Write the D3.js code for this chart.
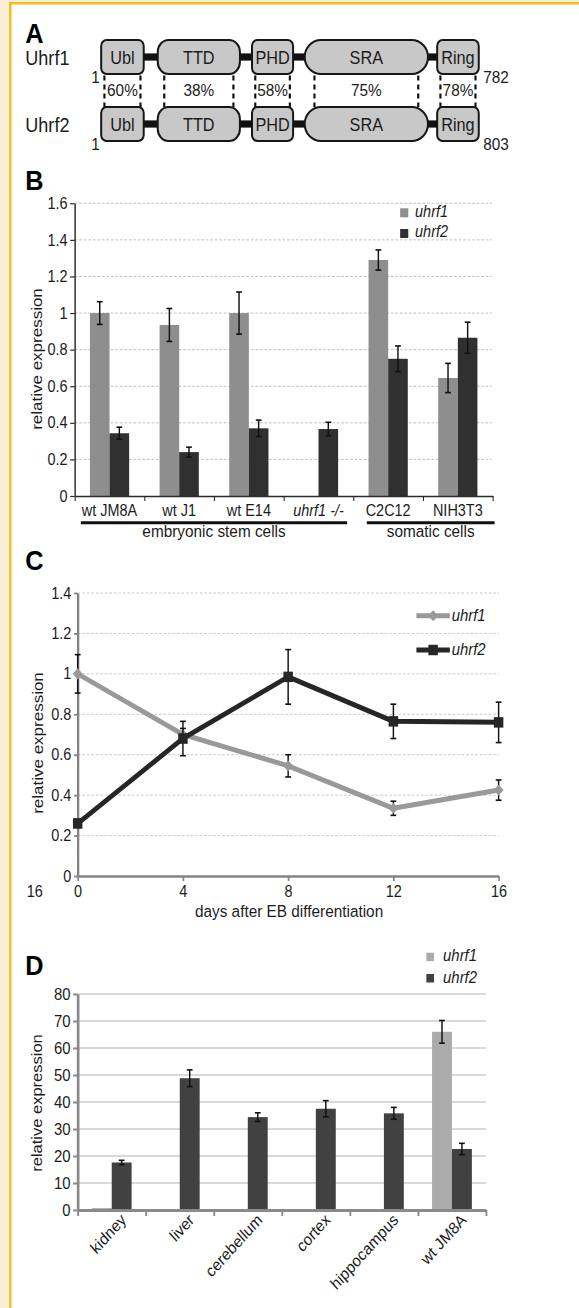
<!DOCTYPE html>
<html>
<head>
<meta charset="utf-8">
<script src="https://cdn.jsdelivr.net/npm/d3@7"></script>
<style>
  body { margin: 0; background: #fff; }
  svg { display: block; }
</style>
</head>
<body>
<svg id="fig" width="579" height="1308"></svg>
<script>
// panel A: domain schematic (schematic residue positions, drawn the same for both proteins)
const PROTEINS = ["Uhrf1", "Uhrf2"];
const PROTEIN_LENGTH = [782, 803];
const DOMAINS = ["Ubl", "TTD", "PHD", "SRA", "Ring"];
const DOMAIN_START = [1, 118, 313, 422, 696];
const DOMAIN_END = [89, 288, 398, 677, 782];
const IDENTITY = ["60%", "38%", "58%", "75%", "78%"];

// panel B: cell lines
const CELL_LINES = ["wt JM8A", "wt J1", "wt E14", "uhrf1 -/-", "C2C12", "NIH3T3"];
const B_UHRF1 = [1.0, 0.935, 1.0, 0, 1.29, 0.645];
const B_UHRF1_ERR = [0.062, 0.09, 0.115, 0, 0.055, 0.08];
const B_UHRF2 = [0.343, 0.24, 0.37, 0.366, 0.75, 0.865];
const B_UHRF2_ERR = [0.033, 0.027, 0.045, 0.037, 0.07, 0.085];
const B_TICKS = [0, 0.2, 0.4, 0.6, 0.8, 1, 1.2, 1.4, 1.6];
const GROUP_NAMES = ["embryonic stem cells", "somatic cells"];
const GROUP_MEMBERS = [["wt JM8A", "uhrf1 -/-"], ["C2C12", "NIH3T3"]];

// panel C: EB differentiation time course
const DAYS = [0, 4, 8, 12, 16];
const C_UHRF1 = [1.0, 0.70, 0.545, 0.335, 0.425];
const C_UHRF1_ERR = [0.095, 0.03, 0.055, 0.035, 0.05];
const C_UHRF2 = [0.26, 0.68, 0.985, 0.765, 0.76];
const C_UHRF2_ERR = [0.02, 0.085, 0.135, 0.085, 0.1];
const C_TICKS = [0, 0.2, 0.4, 0.6, 0.8, 1, 1.2, 1.4];

// panel D: tissues
const TISSUES = ["kidney", "liver", "cerebellum", "cortex", "hippocampus", "wt JM8A"];
const D_UHRF1 = [0.7, 0.1, 0, 0.3, 0, 66];
const D_UHRF1_ERR = [0.2, 0, 0, 0, 0, 4.2];
const D_UHRF2 = [17.6, 48.8, 34.4, 37.5, 35.8, 22.6];
const D_UHRF2_ERR = [0.8, 3.1, 1.6, 3.0, 2.2, 2.1];
const D_TICKS = [0, 10, 20, 30, 40, 50, 60, 70, 80];

const SERIES = ["uhrf1", "uhrf2"];
const FONT = "'Liberation Sans', Arial, Helvetica, sans-serif";
const INK = "#1c1c1c";

const SVG = d3.select("#fig").attr("font-family", FONT);

// page frame
SVG.append("rect").attr("width", 579).attr("height", 1308).attr("fill", "#fbeed6");
SVG.append("rect").attr("x", 11.4).attr("y", 4.6).attr("width", 568).attr("height", 1304).attr("fill", "#fff");
SVG.append("line").attr("x1", 10.3).attr("x2", 10.3).attr("y1", 2.1).attr("y2", 1308)
  .attr("stroke", "#f2bf1c").attr("stroke-width", 2.4);
SVG.append("line").attr("x1", 9.1).attr("x2", 579).attr("y1", 3.3).attr("y2", 3.3)
  .attr("stroke", "#f2bf1c").attr("stroke-width", 2.5);

// the figure itself is horizontally condensed
const ROOT = SVG.append("g").attr("transform", "scale(0.9033,1)");

function panelLetter(t, y) {
  ROOT.append("text").attr("x", 28).attr("y", y).text(t)
    .attr("font-size", 28).attr("font-weight", "bold").attr("fill", "#000");
}
panelLetter("A", 43);
panelLetter("B", 190);
panelLetter("C", 570);
panelLetter("D", 975);

function styleAxis(g, color, width, size) {
  g.attr("font-family", FONT).attr("font-size", size);
  g.select(".domain").attr("stroke", color).attr("stroke-width", width);
  g.selectAll(".tick line").attr("stroke", color).attr("stroke-width", Math.max(1.2, width * 0.7));
  g.selectAll(".tick text").attr("fill", INK);
}

function errorBars(g, rows, x, y) {
  const eb = g.selectAll(null).data(rows.filter(d => d.e > 0)).join("g")
    .attr("stroke", "#111").attr("stroke-width", 1.6).attr("fill", "none");
  eb.append("line").attr("x1", x).attr("x2", x)
    .attr("y1", d => y(d.v + d.e)).attr("y2", d => y(d.v - d.e));
  eb.append("line").attr("x1", d => x(d) - 3.2).attr("x2", d => x(d) + 3.2)
    .attr("y1", d => y(d.v + d.e)).attr("y2", d => y(d.v + d.e));
  eb.append("line").attr("x1", d => x(d) - 3.2).attr("x2", d => x(d) + 3.2)
    .attr("y1", d => y(d.v - d.e)).attr("y2", d => y(d.v - d.e));
}

// ---------------- A ----------------
const A_X = d3.scaleLinear().domain([1, 782]).range([112, 530]);
const ROW_TOP = [40, 107];
const BOX_H = 34;
const CORNER = [6, 12, 6, 18, 6];

PROTEINS.forEach((p, r) => {
  const g = ROOT.append("g").attr("transform", `translate(0,${ROW_TOP[r]})`);
  g.append("rect").attr("x", A_X(1)).attr("width", A_X(782) - A_X(1))
    .attr("y", BOX_H / 2 - 3.6).attr("height", 7.2).attr("fill", "#111");
  g.selectAll("rect.dom").data(DOMAINS).join("rect").attr("class", "dom")
    .attr("x", (d, i) => A_X(DOMAIN_START[i]))
    .attr("width", (d, i) => A_X(DOMAIN_END[i]) - A_X(DOMAIN_START[i]))
    .attr("y", 0).attr("height", BOX_H)
    .attr("rx", (d, i) => CORNER[i]).attr("ry", (d, i) => CORNER[i])
    .attr("fill", "#c8c8c8").attr("stroke", "#161616").attr("stroke-width", 2.2);
  g.selectAll("text.dom").data(DOMAINS).join("text").attr("class", "dom")
    .attr("x", (d, i) => (A_X(DOMAIN_START[i]) + A_X(DOMAIN_END[i])) / 2)
    .attr("y", 24).attr("text-anchor", "middle")
    .attr("font-size", 18).attr("fill", INK).text(d => d);
  g.append("text").attr("x", 28).attr("y", 25).attr("font-size", 20).attr("fill", INK).text(p);
  g.append("text").attr("x", A_X(1) - 1.5).attr("y", 43).attr("text-anchor", "end")
    .attr("font-size", 17).attr("fill", INK).text("1");
  g.append("text").attr("x", A_X(782) + 5).attr("y", 43)
    .attr("font-size", 17).attr("fill", INK).text(PROTEIN_LENGTH[r]);
});

const dashG = ROOT.append("g").attr("stroke", "#111").attr("stroke-width", 2.4)
  .attr("stroke-dasharray", "5,4");
DOMAINS.forEach((d, i) => {
  const inset = CORNER[i] * 0.6;
  [A_X(DOMAIN_START[i]) + inset, A_X(DOMAIN_END[i]) - inset].forEach(x => {
    dashG.append("line").attr("x1", x).attr("x2", x).attr("y1", 75.5).attr("y2", 107);
  });
});
ROOT.selectAll("text.ident").data(IDENTITY).join("text").attr("class", "ident")
  .attr("x", (d, i) => (A_X(DOMAIN_START[i]) + A_X(DOMAIN_END[i])) / 2)
  .attr("y", 96.5).attr("text-anchor", "middle")
  .attr("font-size", 17).attr("fill", INK).text(d => d);

// ---------------- B ----------------
const B_LEFT = 82.7, B_RIGHT = 545.4, B_TOP = 203.3, B_BOTTOM = 496;
const bY = d3.scaleLinear().domain([0, 1.6]).range([B_BOTTOM, B_TOP]);
const bX = d3.scaleBand().domain(CELL_LINES).range([B_LEFT, B_RIGHT])
  .paddingInner(0.437).paddingOuter(0.2185);
const bS = d3.scaleBand().domain(SERIES).range([0, bX.bandwidth()]);
const bColor = d3.scaleOrdinal().domain(SERIES).range(["#8e8e8e", "#303030"]);

ROOT.append("g").selectAll("line").data(B_TICKS.filter(t => t > 0)).join("line")
  .attr("x1", B_LEFT).attr("x2", B_RIGHT - 1).attr("y1", d => bY(d)).attr("y2", d => bY(d))
  .attr("stroke", "#bdbdbd").attr("stroke-width", 1).attr("stroke-dasharray", "3,2");

const bRows = [];
CELL_LINES.forEach((c, i) => {
  bRows.push({ cat: c, s: "uhrf1", v: B_UHRF1[i], e: B_UHRF1_ERR[i] });
  bRows.push({ cat: c, s: "uhrf2", v: B_UHRF2[i], e: B_UHRF2_ERR[i] });
});
const bBars = ROOT.append("g");
bBars.selectAll("rect").data(bRows).join("rect")
  .attr("x", d => bX(d.cat) + bS(d.s)).attr("width", bS.bandwidth())
  .attr("y", d => bY(d.v)).attr("height", d => B_BOTTOM - bY(d.v))
  .attr("fill", d => bColor(d.s));
errorBars(bBars, bRows, d => bX(d.cat) + bS(d.s) + bS.bandwidth() / 2, bY);

const bYAxis = ROOT.append("g").attr("transform", `translate(${B_LEFT},0)`)
  .call(d3.axisLeft(bY).tickValues(B_TICKS).tickSize(5).tickSizeOuter(0).tickFormat(d => d));
styleAxis(bYAxis, "#2a2a2a", 1.6, 16);
const bIdx = d3.scaleLinear().domain([0, CELL_LINES.length]).range([B_LEFT, B_RIGHT]);
const bXAxis = ROOT.append("g").attr("transform", `translate(0,${B_BOTTOM})`)
  .call(d3.axisBottom(bIdx).tickValues(d3.range(CELL_LINES.length + 1)).tickSize(5)
    .tickSizeOuter(0).tickFormat(""));
styleAxis(bXAxis, "#2a2a2a", 1.6, 16);

ROOT.selectAll("text.bcat").data(CELL_LINES).join("text").attr("class", "bcat")
  .attr("x", d => bX(d) + bX.bandwidth() / 2).attr("y", 516)
  .attr("text-anchor", "middle").attr("font-size", 16).attr("fill", INK)
  .attr("font-style", d => d.startsWith("uhrf1") ? "italic" : "normal").text(d => d);

const GROUP_PAD = [[-10, 10], [-2, 19]];
GROUP_NAMES.forEach((name, i) => {
  const x1 = bX(GROUP_MEMBERS[i][0]) + GROUP_PAD[i][0];
  const x2 = bX(GROUP_MEMBERS[i][1]) + bX.bandwidth() + GROUP_PAD[i][1];
  ROOT.append("line").attr("x1", x1).attr("x2", x2).attr("y1", 522.7).attr("y2", 522.7)
    .attr("stroke", "#111").attr("stroke-width", 3);
  ROOT.append("text").attr("x", (x1 + x2) / 2).attr("y", 537).attr("text-anchor", "middle")
    .attr("font-size", 17).attr("fill", INK).text(name);
});

ROOT.append("text").attr("transform", "translate(46,359) rotate(-90)")
  .attr("text-anchor", "middle").attr("font-size", 17).attr("fill", INK).text("relative expression");

SERIES.forEach((s, i) => {
  ROOT.append("rect").attr("x", 443).attr("y", 208.3 + i * 20.7).attr("width", 9).attr("height", 9)
    .attr("fill", bColor(s));
  ROOT.append("text").attr("x", 459.5).attr("y", 217 + i * 20.5).attr("font-size", 16)
    .attr("font-style", "italic").attr("fill", INK).text(s);
});

// ---------------- C ----------------
const C_LEFT = 86, C_RIGHT = 552, C_TOP = 593, C_BOTTOM = 876;
const cX = d3.scaleLinear().domain([0, 16]).range([C_LEFT, C_RIGHT]);
const cY = d3.scaleLinear().domain([0, 1.4]).range([C_BOTTOM, C_TOP]);

ROOT.append("g").selectAll("line").data(C_TICKS.filter(t => t > 0)).join("line")
  .attr("x1", C_LEFT).attr("x2", C_RIGHT).attr("y1", d => cY(d)).attr("y2", d => cY(d))
  .attr("stroke", "#c6c6c6").attr("stroke-width", 1).attr("stroke-dasharray", "3,2");

const cYAxis = ROOT.append("g").attr("transform", `translate(${C_LEFT},0)`)
  .call(d3.axisLeft(cY).tickValues(C_TICKS).tickSize(4).tickSizeOuter(0).tickFormat(d => d));
styleAxis(cYAxis, "#848484", 2.6, 16);
const cXAxis = ROOT.append("g").attr("transform", `translate(0,${C_BOTTOM})`)
  .call(d3.axisBottom(cX).tickValues(DAYS).tickSize(5).tickPadding(4.5).tickSizeOuter(0));
styleAxis(cXAxis, "#848484", 2.6, 16);
ROOT.append("text").attr("x", 29.5).attr("y", 897).attr("font-size", 16).attr("fill", INK).text("16");

const cSeries = [
  { name: "uhrf1", v: C_UHRF1, e: C_UHRF1_ERR, color: "#999999", size: 62, rot: 45 },
  { name: "uhrf2", v: C_UHRF2, e: C_UHRF2_ERR, color: "#262626", size: 110, rot: 0 }
];
const line = d3.line().x(d => cX(d.day)).y(d => cY(d.v));
cSeries.forEach(s => {
  const pts = DAYS.map((day, i) => ({ day: day, v: s.v[i], e: s.e[i] }));
  const g = ROOT.append("g");
  g.append("path").datum(pts).attr("d", line).attr("fill", "none")
    .attr("stroke", s.color).attr("stroke-width", 5).attr("stroke-linejoin", "round");
  errorBars(g, pts, d => cX(d.day), cY);
  g.selectAll("path.mk").data(pts).join("path").attr("class", "mk")
    .attr("d", d3.symbol().type(d3.symbolSquare).size(s.size))
    .attr("transform", d => `translate(${cX(d.day)},${cY(d.v)}) rotate(${s.rot})`)
    .attr("fill", s.color);
});

cSeries.forEach((s, i) => {
  const ly = 615.7 + i * 34.3;
  ROOT.append("line").attr("x1", 461).attr("x2", 498).attr("y1", ly).attr("y2", ly)
    .attr("stroke", s.color).attr("stroke-width", 5);
  ROOT.append("path").attr("d", d3.symbol().type(d3.symbolSquare).size(s.size))
    .attr("transform", `translate(479.5,${ly}) rotate(${s.rot})`).attr("fill", s.color);
  ROOT.append("text").attr("x", 500).attr("y", ly + 5.5).attr("font-size", 16.5)
    .attr("font-style", "italic").attr("fill", INK).text(s.name);
});

ROOT.append("text").attr("x", (C_LEFT + C_RIGHT) / 2 + 1).attr("y", 917).attr("text-anchor", "middle")
  .attr("font-size", 17).attr("fill", INK).text("days after EB differentiation");
ROOT.append("text").attr("transform", "translate(48,743) rotate(-90)")
  .attr("text-anchor", "middle").attr("font-size", 17).attr("fill", INK).text("relative expression");

// ---------------- D ----------------
const D_LEFT = 86, D_RIGHT = 538, D_TOP = 994, D_BOTTOM = 1210;
const dY = d3.scaleLinear().domain([0, 80]).range([D_BOTTOM, D_TOP]);
const dX = d3.scaleBand().domain(TISSUES).range([D_LEFT, D_RIGHT])
  .paddingInner(0.415).paddingOuter(0.2075);
const dS = d3.scaleBand().domain(SERIES).range([0, dX.bandwidth()]);
const dColor = d3.scaleOrdinal().domain(SERIES).range(["#ababab", "#414141"]);

ROOT.append("g").selectAll("line").data(D_TICKS.filter(t => t > 0)).join("line")
  .attr("x1", D_LEFT).attr("x2", D_RIGHT).attr("y1", d => dY(d)).attr("y2", d => dY(d))
  .attr("stroke", "#d9d9d9").attr("stroke-width", 2);

const dRows = [];
TISSUES.forEach((c, i) => {
  dRows.push({ cat: c, s: "uhrf1", v: D_UHRF1[i], e: D_UHRF1_ERR[i] });
  dRows.push({ cat: c, s: "uhrf2", v: D_UHRF2[i], e: D_UHRF2_ERR[i] });
});
const dBars = ROOT.append("g");
dBars.selectAll("rect").data(dRows).join("rect")
  .attr("x", d => dX(d.cat) + dS(d.s)).attr("width", dS.bandwidth())
  .attr("y", d => dY(d.v)).attr("height", d => D_BOTTOM - dY(d.v))
  .attr("fill", d => dColor(d.s));
errorBars(dBars, dRows.filter(d => d.e >= 0.5), d => dX(d.cat) + dS(d.s) + dS.bandwidth() / 2, dY);

const dYAxis = ROOT.append("g").attr("transform", `translate(${D_LEFT},0)`)
  .call(d3.axisLeft(dY).tickValues(D_TICKS).tickSize(5).tickSizeOuter(0));
styleAxis(dYAxis, "#8a8a8a", 3, 16.5);
const dIdx = d3.scaleLinear().domain([0, TISSUES.length]).range([D_LEFT, D_RIGHT]);
const dXAxis = ROOT.append("g").attr("transform", `translate(0,${D_BOTTOM})`)
  .call(d3.axisBottom(dIdx).tickValues(d3.range(TISSUES.length + 1)).tickSize(6)
    .tickSizeOuter(0).tickFormat(""));
styleAxis(dXAxis, "#8a8a8a", 3, 16);

ROOT.selectAll("text.dcat").data(TISSUES).join("text").attr("class", "dcat")
  .attr("transform", d => `translate(${dX(d) + dX.bandwidth() / 2 + 17},1221) rotate(-45)`)
  .attr("text-anchor", "end").attr("font-size", 16.5).attr("fill", INK).text(d => d);

ROOT.append("text").attr("transform", "translate(46,1103) rotate(-90)")
  .attr("text-anchor", "middle").attr("font-size", 16.5).attr("fill", INK).text("relative expression");

SERIES.forEach((s, i) => {
  ROOT.append("rect").attr("x", 472).attr("y", 952.7 + i * 21.3).attr("width", 8.5).attr("height", 8.5)
    .attr("fill", dColor(s));
  ROOT.append("text").attr("x", 490.5).attr("y", 961 + i * 22).attr("font-size", 16.5)
    .attr("font-style", "italic").attr("fill", INK).text(s);
});
</script>
</body>
</html>
